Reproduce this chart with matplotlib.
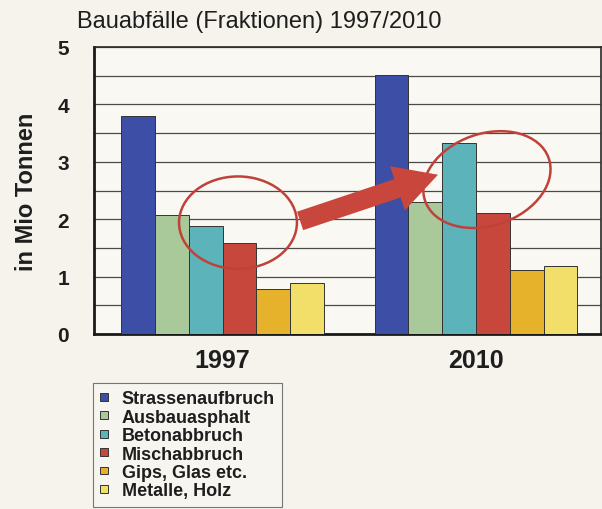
import numpy as np
import matplotlib
matplotlib.use('Agg')
import matplotlib.pyplot as plt
from matplotlib.patches import Ellipse, FancyArrowPatch, ArrowStyle

plt.rcParams['font.family'] = ['Liberation Sans', 'DejaVu Sans']

# data (Mio Tonnen)
years = ['1997', '2010']
fractions = ['Strassenaufbruch', 'Ausbauasphalt', 'Betonabbruch',
             'Mischabbruch', 'Gips, Glas etc.', 'Metalle, Holz']
values_1997 = [3.80, 2.08, 1.89, 1.59, 0.79, 0.89]
values_2010 = [4.52, 2.30, 3.32, 2.10, 1.11, 1.19]
colors = ['#3c4ea5', '#a9c99b', '#5db3ba', '#c8473c', '#e6b22b', '#f1df6a']

paper = '#f6f3ed'
fig = plt.figure(figsize=(6.02, 5.10), dpi=100, facecolor=paper)
ax = fig.add_axes([94 / 602, 1 - 335 / 510, 507 / 602, (335 - 48) / 510])
ax.set_facecolor('#faf8f3')

x = np.arange(len(years))
width = 0.8 / len(fractions)
for i, name in enumerate(fractions):
    vals = [values_1997[i], values_2010[i]]
    ax.bar(x - 0.4 + width * (i + 0.5), vals, width, color=colors[i],
           edgecolor='#333333', linewidth=0.7, label=name, zorder=3)

ax.set_xlim(-0.507, 1.493)
ax.set_ylim(0, 5)
ax.set_yticks(range(6))
ax.set_yticks(np.arange(0.5, 5, 1.0), minor=True)
ax.grid(axis='y', which='both', color='#4a4a4a', linewidth=0.9, zorder=0)
ax.set_axisbelow(True)
ax.set_xticks(x)
ax.set_xticklabels(years, fontsize=18, fontweight='bold', color='#1e1e1e')
ax.tick_params(axis='x', length=0, pad=10)
ax.tick_params(axis='y', which='both', length=0, pad=18, labelsize=15)
for lbl in ax.get_yticklabels():
    lbl.set_fontweight('bold')
    lbl.set_color('#1e1e1e')

for side in ['left', 'bottom']:
    ax.spines[side].set_linewidth(2.0)
    ax.spines[side].set_color('#1a1a1a')
for side in ['top', 'right']:
    ax.spines[side].set_linewidth(1.2)
    ax.spines[side].set_color('#2a2a2a')

ax.set_ylabel('in Mio Tonnen', fontsize=17, fontweight='bold', color='#1e1e1e',
              labelpad=14)

fig.text(77 / 602, 1 - 22 / 510, 'Bauabfälle (Fraktionen) 1997/2010',
         fontsize=17, color='#1e1e1e', va='center', ha='left')

# red marks drawn over the chart
red = '#c0413a'
ax.add_patch(Ellipse((0.061, 1.94), 0.465, 1.61, fill=False,
                     edgecolor=red, linewidth=1.8, zorder=5))
ax.add_patch(Ellipse((1.043, 2.69), 0.489, 1.69, angle=-4, fill=False,
                     edgecolor=red, linewidth=1.8, zorder=5))
arrow = FancyArrowPatch((0.306, 1.97), (0.850, 2.775),
                        arrowstyle=ArrowStyle('Simple', head_length=2.2,
                                              head_width=2.4, tail_width=1.0),
                        mutation_scale=14, color='#c8463b', linewidth=0,
                        shrinkA=0, shrinkB=0, zorder=6)
ax.add_patch(arrow)

leg = fig.legend(loc='upper left', bbox_to_anchor=(93 / 602, 1 - 384 / 510),
                 fontsize=13, frameon=True, fancybox=False,
                 handlelength=0.45, handleheight=0.3, handletextpad=0.75,
                 labelspacing=0.08, borderpad=0.4, borderaxespad=0)
leg.get_frame().set_edgecolor('#555555')
leg.get_frame().set_linewidth(0.8)
leg.get_frame().set_facecolor('#f8f6f1')
for t in leg.get_texts():
    t.set_fontweight('bold')
    t.set_color('#1e1e1e')

fig.savefig('out.png', dpi=100, facecolor=paper)
